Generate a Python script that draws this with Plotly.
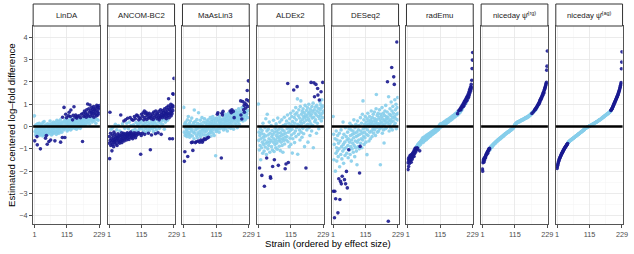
import plotly.graph_objects as go

W, H = 634, 254
FONT = "Liberation Sans, Arial, sans-serif"
DARK = "#1a1a90"
LIGHT = "#87ceeb"

methods = ["LinDA", "ANCOM-BC2", "MaAsLin3", "ALDEx2", "DESeq2", "radEmu",
           "niceday ψ̂<sup>(rg)</sup>", "niceday ψ̂<sup>(ag)</sup>"]
strain = list(range(1, 230))
x_ticks = [1, 115, 229]
x_minor = [58, 172]
y_ticks = [-4, -3, -2, -1, 0, 1, 2, 3, 4]
y_minor = [-3.5, -2.5, -1.5, -0.5, 0.5, 1.5, 2.5, 3.5]

linda = [
    0.48, -0.64, -0.22, 0.04, -0.38, -0.15, 0.08, -0.30, -0.10, -0.45,
    -0.82, 0.12, -0.25, -0.05, -0.33, 0.02, -0.18, 0.15, -0.40, -0.08,
    -0.28, -1.00, -0.12, 0.06, -0.35, -0.20, 0.10, -0.02, -0.30, -0.42,
    0.18, -0.15, -0.38, -0.05, 0.22, -0.25, -0.10, 0.05, -0.33, -0.52,
    -0.18, 0.08, -0.40, -0.02, -0.28, -0.79, 0.12, -0.15, -0.35, 0.02,
    -0.08, -0.67, -0.22, 0.10, -0.30, 0.25, -0.12, -0.60, 0.04, -0.20,
    -0.38, 0.14, -0.05, -0.25, 0.08, -0.32, -0.10, 0.20, -0.18, 0.00,
    -0.28, 0.12, -0.64, -0.08, 0.18, -0.22, 0.05, -0.35, -0.02, 0.28,
    -0.15, 0.10, -0.26, 0.02, 0.22, -0.12, -0.30, 0.15, -0.05, 0.08,
    -0.20, 0.30, -0.70, 0.05, -0.10, 0.18, -0.25, 0.12, -0.49, 0.42,
    -0.08, 0.20, 0.02, -0.15, 0.86, 0.25, -0.05, -0.49, 0.12, 0.32,
    0.55, -0.10, 0.18, 0.40, 0.05, -0.20, 0.28, 0.08, -0.12, 0.22,
    0.48, 0.15, 0.64, -0.05, 0.30, 0.10, 0.45, -0.15, 0.74, 0.20,
    0.02, 0.35, -0.10, 0.25, 0.30, 0.08, 0.50, -0.02, 0.18, 0.89,
    0.12, 0.28, -0.08, 0.42, 0.20, 0.52, 0.05, 0.32, -0.12, 0.38,
    0.15, 0.45, 0.22, -0.05, 0.30, 0.10, 0.48, 0.25, 0.02, 0.35,
    0.18, -0.08, 0.40, 0.28, 0.08, 0.55, 0.22, 0.32, 0.12, -0.67,
    0.25, 0.60, 0.15, 0.45, 0.30, 0.05, 0.70, 0.20, 0.50, 0.35,
    0.62, 0.10, 0.42, 0.28, 0.75, 0.18, 0.55, 1.01, 0.32, 0.48,
    0.22, 0.80, 0.38, 0.65, 0.12, 0.97, 0.45, 0.28, 0.72, 0.58,
    0.35, 0.85, 0.62, 0.20, 0.50, 0.78, 0.30, 0.68, 0.90, 0.42,
    0.25, 0.60, 0.75, 0.38, 0.55, 0.82, 0.15, 0.70, 0.48, 0.95,
    0.32, 0.89, 0.65, 0.52, 0.28, 0.78, 0.60, 0.85, 0.94]
linda_sig = [2, 10, 11, 22, 40, 43, 46, 52, 58, 73, 93, 99, 108, 170,
             100, 105, 111, 114, 121, 123, 127, 129, 135, 137, 140, 144, 146, 150,
             152, 157, 163, 166, 172, 174, 177, 179, 181, 183, 185, 187, 188, 190,
             192, 194, 196, 197, 199, 200, 202, 203, 205, 206, 208, 209, 210, 212,
             213, 215, 216, 218, 219, 220, 222, 223, 224, 226, 227, 228, 229]

ancom = [
    -0.75, -0.45, -1.44, 0.64, -0.62, -0.30, -0.85, -0.12, -0.55, -0.70,
    -1.09, -0.38, -0.80, -0.05, -0.62, -0.48, -0.90, -0.25, -0.58, -0.72,
    -0.35, -0.66, 0.10, -0.52, -0.78, -0.42, -0.60, -0.15, -0.85, -0.48,
    -0.55, -0.32, -0.70, 0.05, -0.45, -0.62, -0.38, -0.75, -0.20, -0.50,
    -0.66, 0.52, -0.40, -0.58, -0.28, -0.72, -0.45, 0.12, -0.60, -0.35,
    -0.52, -0.30, 0.25, -0.65, -0.42, -0.08, -0.55, -0.38, 0.30, -0.48,
    -0.32, -0.60, 0.15, -0.45, -0.28, 0.37, -0.52, -0.40, -0.10, -0.35,
    -0.58, 0.20, -0.30, -0.46, 0.40, -0.38, -0.25, 0.05, -0.50, -0.32,
    0.32, -0.42, -0.18, -0.55, 0.28, -0.35, 0.08, -0.45, -0.28, 0.45,
    -0.38, -0.12, 0.35, -0.50, -0.30, 0.18, -0.40, 0.52, -0.22, 0.02,
    0.48, -0.35, 0.10, -0.28, 0.30, -0.15, 0.42, -0.05, 0.20, -0.32,
    0.35, -1.24, 0.15, -0.40, 0.55, -0.10, 0.25, -0.30, 0.45, 0.05,
    0.62, -0.20, 0.30, 0.12, 0.70, -0.35, 0.40, -0.08, 0.58, 0.18,
    0.64, -0.25, 0.32, 0.05, 0.48, -0.12, 0.55, 0.22, -0.30, 0.38,
    0.10, 0.60, -0.18, 0.42, -0.05, -1.04, 0.50, 0.15, 0.35, -0.38,
    0.25, 0.45, -0.10, 0.58, 0.08, 0.32, -0.22, 0.65, 0.18, 0.40,
    -0.05, 0.52, 0.28, -0.32, 0.70, 0.12, 0.45, -0.15, 0.60, 0.35,
    0.05, 0.55, -0.28, 0.42, 0.22, 0.68, 0.30, -0.08, 0.50, 0.38,
    0.15, 0.75, 0.45, -0.35, 0.62, 0.25, 0.55, 0.40, 0.10, 0.72,
    0.48, 0.30, 0.65, 0.52, -0.12, 0.80, 0.42, 0.58, 0.20, 0.68,
    0.55, 0.35, 0.85, 0.45, 0.62, 0.28, 0.75, 0.50, 0.92, 1.25,
    0.60, 0.40, 0.78, -0.55, 0.55, 0.88, 0.70, 1.00, 0.48, 0.65,
    0.82, 0.58, 0.95, -0.55, 1.47, 0.72, 1.45, 0.90, 2.16]
ancom_sig = [1, 2, 3, 4, 5, 6, 7, 9, 10, 11, 12, 13, 15, 16, 17, 18, 19, 20,
             21, 22, 24, 25, 26, 27, 29, 30, 31, 32, 33, 35, 36, 37, 38, 40,
             41, 42, 43, 44, 45, 46, 47, 49, 50, 51, 52, 53, 54, 55, 57, 58, 59, 60,
             61, 62, 64, 65, 66, 67, 68, 70, 71, 73, 74, 75, 76, 77, 79, 80,
             81, 82, 84, 85, 86, 88, 89, 90, 91, 93, 94, 95, 97, 98,
             101, 102, 104, 105, 107, 110, 111, 112, 114, 115, 118, 119,
             121, 123, 125, 126, 127, 129, 131, 133, 135, 137, 139, 140,
             142, 144, 146, 147, 149, 150, 152, 154, 156, 158, 160,
             162, 164, 165, 167, 169, 170, 172, 173, 174, 176, 177, 179, 180,
             182, 183, 184, 185, 187, 188, 190, 191, 193, 194, 196, 197, 198, 200,
             201, 202, 203, 204, 205, 207, 208, 209, 210,
             211, 212, 213, 214, 215, 216, 217, 218, 219, 220,
             221, 222, 223, 224, 225, 226, 227, 228, 229]

maaslin = [
    0.86, -0.25, -1.56, 0.12, -1.13, -0.40, -0.05, 0.20, -0.32, -0.15,
    0.08, -0.45, -0.22, 0.30, -1.34, -0.10, 0.45, -0.35, 0.02, -0.28,
    0.15, -0.48, -0.08, 0.25, -0.38, 0.05, -0.20, -0.72, 0.38, -0.12,
    -0.42, -0.70, -1.07, 0.10, -0.25, 0.18, -0.55, 0.74, -0.30, -0.02,
    0.22, -0.72, -0.15, 0.05, -0.68, -0.40, 0.32, -0.10, -0.50, 0.15,
    -0.28, -0.65, 0.62, -0.05, -0.35, 0.08, -0.70, -0.20, 0.28, -0.45,
    -0.60, 0.12, -0.30, -0.08, 0.40, -0.70, -0.18, 0.05, -0.62, -0.38,
    0.20, -0.12, -0.55, 0.35, -0.25, -0.05, -0.58, 0.15, -0.40, 0.02,
    -0.20, 0.25, -0.52, -0.10, 0.10, -0.35, 0.30, -0.48, -0.02, 0.18,
    -0.30, 0.05, -0.15, 0.40, -0.25, 0.12, -0.42, 0.22, -0.08, 0.32,
    -0.18, 0.08, 0.45, -0.30, 0.15, -0.05, 0.28, -0.40, 0.02, 0.35,
    -0.12, 0.20, -1.31, 0.10, -0.22, 0.38, 0.05, -0.15, 0.55, 0.25,
    0.62, -0.08, 0.30, 0.12, -0.25, 0.45, 0.02, 0.18, -0.10, 0.35,
    0.08, 0.25, -1.41, 0.15, 0.60, -0.05, 0.52, 0.30, 0.68, 0.10,
    -0.15, 0.40, 0.20, -0.02, 0.32, 0.12, 0.55, -0.10, 0.25, 0.45,
    0.05, 0.35, 0.18, -0.20, 0.48, 0.28, 0.08, 0.60, -0.05, 0.38,
    0.22, 0.50, 0.12, 0.70, 0.30, -0.08, 0.42, 0.62, 0.18, 0.75,
    0.35, 0.05, 0.55, 0.25, 0.68, -0.12, 0.45, 0.40, 0.30, 0.62,
    0.15, 0.52, 0.38, 0.72, 0.08, 0.45, 0.25, 0.58, -0.05, 0.35,
    0.65, 0.20, 0.48, 0.80, 0.32, 0.10, 0.55, 0.42, 0.70, 0.28,
    1.15, 0.52, 0.38, 0.62, 0.34, 0.85, 0.45, 1.12, 0.25, 0.60,
    0.75, 0.40, 0.94, 0.64, 0.55, 1.05, 0.30, 0.82, 0.68, 0.48,
    0.98, 1.20, 0.58, 1.62, 0.40, 0.90, 0.72, 2.05, 1.15]
maaslin_sig = [3, 5, 15, 28, 32, 33, 42, 45, 52, 57, 61, 66, 69, 73, 77, 83, 88,
               119, 121, 133, 135, 137, 139, 164, 168, 170, 175, 178,
               201, 202, 205, 208, 211, 213, 214, 216, 218, 221, 222, 224, 226, 228, 229]

aldex = [
    1.01, -0.62, -0.25, -1.05, -1.86, -0.40, -0.85, -0.10, -1.49, -0.55,
    -0.30, -0.95, -2.19, -0.18, -0.70, -1.20, 0.15, -0.48, -0.80, -0.35,
    -1.10, -2.68, -0.60, -0.05, -0.92, -0.42, 0.35, -0.75, -1.25, -1.41,
    -0.20, 0.55, -0.68, -1.00, -0.38, -0.12, -0.85, -0.55, 0.20, -0.72,
    -1.15, -0.30, -2.25, -2.32, -0.62, 0.05, -0.90, -0.45, -0.18, -1.05,
    -1.79, -0.35, -0.70, 0.28, -0.55, -1.12, -1.49, -0.25, -0.80, -0.08,
    -0.62, -0.95, 0.12, -0.40, -0.75, -0.20, -1.02, -0.50, 0.38, -0.30,
    -1.74, -0.65, -0.12, -0.88, -0.45, 0.20, -0.58, -1.08, -0.28, -0.02,
    -0.70, -0.40, 0.30, -0.85, -0.15, -0.55, -1.15, 0.05, -0.35, -0.62,
    -0.20, 0.42, -0.78, -0.48, -1.89, 0.10, -0.30, -1.68, -0.60, 0.25,
    -0.45, -0.10, 0.52, 1.93, -0.68, -1.61, -0.25, 0.15, -0.90, -0.05,
    0.35, -0.52, -0.18, 0.60, -0.80, 0.08, -0.38, 0.45, -0.12, -1.19,
    0.22, -0.55, 0.70, 0.02, 1.64, -0.30, 0.40, -0.72, 0.15, 0.55,
    -0.20, 0.85, -0.45, 0.30, -0.05, 0.62, 1.79, 1.24, -1.24, 0.10,
    0.48, -0.35, 0.75, 0.05, -0.15, 0.38, -0.60, 0.90, 0.22, 1.15,
    -0.25, 0.55, 0.12, -0.48, 0.68, 0.32, -0.08, 0.80, 0.45, -0.32,
    0.18, 0.62, -0.90, 0.40, 0.95, 0.02, 0.52, -1.86, 0.28, 0.72,
    -0.15, 0.45, 0.85, 0.10, -0.70, 0.58, 0.35, 1.00, -0.05, 0.65,
    0.25, -0.40, 0.78, 0.48, 0.12, 1.98, 0.55, -0.20, 0.90, 0.38,
    0.68, 0.05, 1.05, -0.95, 0.42, 1.96, 0.75, 1.34, 0.22, 0.60,
    0.88, 0.30, 1.89, 0.52, -0.30, 0.95, 0.70, 0.15, 1.71, 1.41,
    0.45, 0.82, -0.10, 0.62, 1.19, 0.35, 1.10, 0.75, 0.50, 0.98,
    1.56, 0.25, 0.85, 1.20, 0.60, 0.40, 1.98, 0.92, 0.70]
aldex_sig = [5, 13, 22, 30, 43, 44, 51, 57, 71, 95, 98, 104, 106, 125, 137, 168,
             186, 196, 198, 203, 209, 210, 215, 221, 227]

deseq = [
    0.45, -2.90, -0.35, -1.49, -0.80, -4.09, -2.90, -0.55, -2.00, -3.24,
    -1.20, -0.20, -0.95, -1.55, -0.60, -1.10, -0.40, -3.87, -1.35, -0.75,
    -2.34, -1.00, -0.30, -1.80, -3.27, -0.65, -2.46, -1.25, -0.15, -2.57,
    -0.90, -1.45, -2.23, -0.50, -1.10, 0.20, -0.80, -1.65, -0.35, -1.00,
    -2.38, -0.70, -1.30, -0.05, -2.57, -0.95, -0.45, -2.01, -1.20, -0.60,
    -2.75, -0.25, -0.85, -1.40, -0.55, -1.04, -0.10, -1.05, -0.70, 0.15,
    -1.25, -0.40, -0.90, -0.15, -1.55, -0.60, 0.05, -1.00, -0.35, -0.75,
    -0.20, -1.15, -0.50, 0.30, -0.85, -0.30, -1.35, -0.05, -0.65, -0.95,
    0.10, -0.45, -1.10, -0.25, -1.71, -0.70, 0.25, -0.40, -0.90, -0.15,
    -0.60, 0.05, -1.00, -2.08, -0.35, -0.89, 0.40, -0.75, -0.20, -0.55,
    0.15, -0.95, -0.30, 0.55, -0.60, 1.15, -0.10, -0.45, 0.30, -0.80,
    -0.25, 0.10, -0.50, 0.45, -0.05, -0.70, 0.20, -0.35, 0.05, -1.26,
    0.35, -0.15, 0.60, -0.40, 0.10, 0.25, -0.65, 0.00, 0.45, -0.25,
    0.15, -0.55, 0.30, 0.05, 0.70, -0.20, 0.20, -0.45, 0.40, 0.10,
    -0.10, 0.55, -0.30, 0.25, 0.00, 0.65, -0.15, 0.35, 0.10, -0.40,
    0.20, 0.80, 1.44, -0.05, 0.30, 0.50, -0.25, 0.15, 0.60, 0.05,
    -0.20, 0.40, 0.10, 0.75, -0.10, 0.30, -1.71, 0.55, 0.20, -0.05,
    0.45, 0.15, 0.85, -0.30, 0.35, 0.05, 0.60, -0.15, 0.25, -0.74,
    0.50, 0.10, 0.70, 0.30, -0.10, 0.95, 0.20, 0.45, -0.05, 0.35,
    0.65, 2.01, 0.15, 0.40, -4.25, 1.34, 0.25, -0.20, 0.55, 0.10,
    0.80, 0.30, -0.05, 0.50, 1.10, 0.20, 2.65, 0.70, -0.15, 0.40,
    0.90, 0.25, 0.60, 2.23, 0.05, 1.89, 0.45, 1.20, 0.15, 0.75,
    0.35, 1.00, -0.10, 0.55, 3.79, 0.85, 0.30, 1.30, 0.60]
deseq_sig = [2, 6, 7, 10, 18, 21, 25, 27, 30, 33, 41, 45, 48, 51, 56, 94, 96,
             192, 195, 207, 214, 216, 225]

rademu = [
    -1.62, -1.93, -1.45, -1.79, -1.52, -1.38, -1.66, -1.47, -1.30, -1.55,
    -1.42, -1.28, -1.60, -1.35, -1.25, -1.48, -1.41, -1.20, -1.33, -1.18,
    -1.27, -1.12, -1.34, -1.05, -1.22, -1.12, -0.98, -1.15, -0.97, -1.02,
    -0.92, -1.06, -0.88, -0.95, -0.84, -0.99, -0.80, -0.82, -0.90, -0.76,
    -0.85, -0.72, -1.09, -0.78, -0.70, -0.81, -0.66, -0.74, -0.62, -0.69,
    -0.60, -0.68, -0.52, -0.63, -0.71, -0.55, -0.48, -0.66, -0.58, -0.50,
    -0.62, -0.45, -0.56, -0.49, -0.41, -0.59, -0.52, -0.38, -0.47, -0.54,
    -0.43, -0.36, -0.50, -0.40, -0.33, -0.46, -0.39, -0.30, -0.44, -0.35,
    -0.28, -0.41, -0.32, -0.25, -0.37, -0.30, -0.22, -0.34, -0.27, -0.19,
    -0.31, -0.24, -0.17, -0.28, -0.21, -0.14, -0.26, -0.18, -0.11, -0.23,
    -0.15, -0.08, -0.19, -0.12, -0.05, -0.16, -0.09, -0.02, -0.13, -0.06,
    0.02, -0.06, 0.08, 0.01, -0.03, 0.12, 0.05, -0.01, 0.10, 0.04,
    0.14, 0.07, 0.02, 0.16, 0.11, 0.05, 0.19, 0.13, 0.09, 0.20,
    0.15, 0.24, 0.12, 0.21, 0.18, 0.27, 0.14, 0.23, 0.30, 0.19,
    0.26, 0.22, 0.33, 0.20, 0.29, 0.35, 0.25, 0.31, 0.38, 0.27,
    0.34, 0.40, 0.30, 0.43, 0.36, 0.32, 0.45, 0.39, 0.48, 0.37,
    0.44, 0.50, 0.41, 0.47, 0.53, 0.43, 0.56, 0.49, 0.46, 0.58,
    0.52, 0.61, 0.55, 0.50, 0.64, 0.58, 0.68, 0.54, 0.62, 0.71,
    0.66, 0.60, 0.74, 0.69, 0.78, 0.65, 0.82, 0.75, 0.88, 0.72,
    0.85, 0.93, 0.80, 0.97, 0.89, 1.02, 0.91, 1.06, 0.95, 1.12,
    1.00, 1.15, 1.08, 1.20, 1.04, 1.25, 1.14, 1.30, 1.18, 1.35,
    1.22, 1.40, 1.28, 1.47, 1.33, 1.55, 1.42, 1.64, 1.50, 1.70,
    1.58, 1.78, 1.66, 1.89, 1.75, 2.08, 2.60, 2.98, 3.32]
rademu_sig = [*range(1, 31), 32, 34, 36, 43, 176, 180, 183, 185, 187, 188, 189,
              191, 192, 194, 195, 196, 197, 198, *range(200, 205), *range(206, 211),
              *range(212, 230)]

nice_rg = [
    -1.90, -2.00, -1.62, -1.55, -1.48, -1.60, -1.42, -1.52, -1.45, -1.38,
    -1.35, -1.40, -1.28, -1.30, -1.22, -1.25, -1.18, -1.20, -1.12, -1.19,
    -1.10, -1.05, -1.08, -1.00, -1.02, -0.97, -0.99, -1.04, -0.93, -0.95,
    -0.90, -0.92, -0.87, -0.94, -0.85, -0.88, -0.82, -0.86, -0.80, -0.78,
    -0.80, -0.76, -0.78, -0.73, -0.75, -0.72, -0.70, -0.74, -0.68, -0.66,
    -0.67, -0.64, -0.66, -0.62, -0.60, -0.63, -0.58, -0.60, -0.56, -0.57,
    -0.55, -0.53, -0.56, -0.51, -0.50, -0.52, -0.48, -0.47, -0.49, -0.45,
    -0.44, -0.46, -0.42, -0.40, -0.43, -0.38, -0.40, -0.36, -0.37, -0.34,
    -0.35, -0.32, -0.33, -0.30, -0.31, -0.28, -0.29, -0.27, -0.25, -0.27,
    -0.24, -0.25, -0.22, -0.23, -0.20, -0.21, -0.19, -0.17, -0.18, -0.15,
    -0.16, -0.13, -0.14, -0.11, -0.12, -0.09, -0.10, -0.07, -0.08, -0.05,
    -0.03, 0.00, 0.03, 0.06, 0.08, 0.10, 0.12, 0.11, 0.14, 0.15,
    0.17, 0.16, 0.19, 0.18, 0.20, 0.21, 0.19, 0.22, 0.23, 0.21,
    0.24, 0.25, 0.23, 0.26, 0.27, 0.25, 0.28, 0.29, 0.27, 0.30,
    0.31, 0.29, 0.32, 0.33, 0.31, 0.34, 0.35, 0.33, 0.36, 0.37,
    0.38, 0.36, 0.39, 0.40, 0.38, 0.41, 0.42, 0.40, 0.43, 0.44,
    0.45, 0.43, 0.47, 0.46, 0.48, 0.50, 0.49, 0.52, 0.51, 0.54,
    0.56, 0.55, 0.58, 0.60, 0.59, 0.62, 0.61, 0.64, 0.66, 0.65,
    0.68, 0.70, 0.69, 0.73, 0.75, 0.72, 0.78, 0.80, 0.77, 0.84,
    0.86, 0.88, 0.85, 0.92, 0.95, 0.93, 0.99, 1.02, 1.00, 1.06,
    1.10, 1.08, 1.15, 1.18, 1.22, 1.20, 1.26, 1.30, 1.28, 1.34,
    1.38, 1.42, 1.40, 1.48, 1.52, 1.55, 1.50, 1.62, 1.66, 1.70,
    1.74, 1.78, 1.83, 1.88, 1.93, 1.98, 2.53, 2.71, 3.39]
nice_rg_sig = [*range(1, 27), 175, 180, 184, 185, 187, 188, 190, 191, 192, 194, 195,
               *range(197, 230)]

nice_ag = [
    -1.88, -1.80, -1.74, -1.68, -1.63, -1.58, -1.54, -1.50, -1.46, -1.43,
    -1.40, -1.37, -1.34, -1.31, -1.28, -1.25, -1.22, -1.20, -1.17, -1.15,
    -1.12, -1.10, -1.07, -1.05, -1.03, -1.00, -0.98, -0.96, -0.94, -0.92,
    -0.90, -0.88, -0.86, -0.84, -0.82, -0.80, -0.78, -0.76, -0.74, -0.72,
    -0.70, -0.69, -0.67, -0.66, -0.65, -0.64, -0.63, -0.62, -0.61, -0.60,
    -0.59, -0.58, -0.57, -0.56, -0.55, -0.54, -0.53, -0.52, -0.51, -0.50,
    -0.49, -0.48, -0.47, -0.46, -0.45, -0.44, -0.43, -0.42, -0.41, -0.40,
    -0.39, -0.38, -0.37, -0.36, -0.35, -0.34, -0.33, -0.32, -0.31, -0.30,
    -0.29, -0.28, -0.27, -0.26, -0.25, -0.24, -0.23, -0.22, -0.21, -0.20,
    -0.19, -0.18, -0.17, -0.16, -0.15, -0.14, -0.12, -0.11, -0.10, -0.09,
    -0.08, -0.07, -0.06, -0.05, -0.05, -0.04, -0.03, -0.02, -0.02, -0.01,
    0.00, 0.00, 0.01, 0.01, 0.02, 0.03, 0.03, 0.04, 0.05, 0.06,
    0.06, 0.07, 0.08, 0.09, 0.09, 0.10, 0.11, 0.12, 0.12, 0.13,
    0.14, 0.15, 0.15, 0.16, 0.17, 0.18, 0.19, 0.19, 0.20, 0.21,
    0.22, 0.23, 0.23, 0.24, 0.25, 0.26, 0.27, 0.28, 0.29, 0.30,
    0.30, 0.31, 0.32, 0.33, 0.34, 0.35, 0.36, 0.37, 0.38, 0.39,
    0.40, 0.41, 0.42, 0.43, 0.44, 0.45, 0.46, 0.47, 0.48, 0.49,
    0.50, 0.51, 0.52, 0.53, 0.54, 0.55, 0.56, 0.57, 0.58, 0.59,
    0.60, 0.61, 0.62, 0.63, 0.64, 0.65, 0.67, 0.68, 0.70, 0.72,
    0.74, 0.76, 0.78, 0.80, 0.83, 0.86, 0.89, 0.92, 0.95, 0.98,
    1.01, 1.04, 1.07, 1.10, 1.13, 1.16, 1.19, 1.22, 1.25, 1.28,
    1.31, 1.34, 1.37, 1.40, 1.44, 1.48, 1.52, 1.56, 1.60, 1.64,
    1.69, 1.74, 1.79, 1.85, 1.91, 1.97, 2.59, 2.89, 3.35]
nice_ag_sig = [*range(1, 39), *range(190, 230)]

values = [linda, ancom, maaslin, aldex, deseq, rademu, nice_rg, nice_ag]
sigs = [linda_sig, ancom_sig, maaslin_sig, aldex_sig, deseq_sig, rademu_sig,
        nice_rg_sig, nice_ag_sig]
for v in values:
    assert len(v) == len(strain), len(v)

fig = go.Figure()
layout = {}
shapes = []
annotations = []

Y0, Y1 = 1 - 224 / H, 1 - 26 / H
for k, (name, vals, sig) in enumerate(zip(methods, values, sigs)):
    sfx = "" if k == 0 else str(k + 1)
    sset = set(sig)
    xl = [s for s in strain if s not in sset]
    yl = [vals[s - 1] for s in xl]
    xd = [s for s in strain if s in sset]
    yd = [vals[s - 1] for s in xd]
    fig.add_trace(go.Scatter(x=xl, y=yl, mode="markers", xaxis="x" + sfx, yaxis="y" + sfx,
                             marker=dict(color=LIGHT, size=3.6, opacity=0.9, line=dict(width=0)),
                             showlegend=False, hoverinfo="skip"))
    fig.add_trace(go.Scatter(x=xd, y=yd, mode="markers", xaxis="x" + sfx, yaxis="y" + sfx,
                             marker=dict(color=DARK, size=3.6, opacity=0.9, line=dict(width=0)),
                             showlegend=False, hoverinfo="skip"))
    lpx = 32.5 + k * 75.5
    rpx = lpx + 67.5
    left, right = lpx / W, rpx / W
    layout["xaxis" + sfx] = dict(
        domain=[left, right], range=[-3.5, 231], anchor="y" + sfx,
        tickvals=x_ticks, ticktext=[str(t) for t in x_ticks],
        ticks="outside", ticklen=3, tickwidth=1, tickcolor="#4d4d4d",
        tickfont=dict(size=7.3, color="#4d4d4d", family=FONT),
        showline=True, linecolor="#555555", linewidth=1, mirror=True,
        showgrid=True, gridcolor="#e6e6e6", gridwidth=0.8, zeroline=False,
        minor=dict(tickvals=x_minor, showgrid=True, gridcolor="#f3f3f3", gridwidth=0.5, ticks=""),
        fixedrange=True)
    layout["yaxis" + sfx] = dict(
        domain=[Y0, Y1], range=[-4.37, 4.51], anchor="x" + sfx,
        tickvals=y_ticks, showticklabels=(k == 0),
        ticks="outside" if k == 0 else "", ticklen=3, tickwidth=1, tickcolor="#4d4d4d",
        tickfont=dict(size=7.3, color="#4d4d4d", family=FONT),
        showline=True, linecolor="#555555", linewidth=1, mirror=True,
        showgrid=True, gridcolor="#e6e6e6", gridwidth=0.8, zeroline=False,
        minor=dict(tickvals=y_minor, showgrid=True, gridcolor="#f3f3f3", gridwidth=0.5, ticks=""),
        fixedrange=True)
    shapes.append(dict(type="line", xref="x" + sfx + " domain", yref="y" + sfx,
                       x0=0, x1=1, y0=0, y1=0, line=dict(color="black", width=2.6), layer="above"))
    shapes.append(dict(type="rect", xref="paper", yref="paper", x0=left, x1=right,
                       y0=1 - 26 / H, y1=1 - 4 / H, fillcolor="white",
                       line=dict(color="#333333", width=1), layer="above"))
    annotations.append(dict(text=name, xref="paper", yref="paper", x=(left + right) / 2,
                            y=1 - 15.3 / H, xanchor="center", yanchor="middle", showarrow=False,
                            font=dict(size=7.8, color="#1a1a1a", family=FONT)))

annotations.append(dict(text="Strain (ordered by effect size)", xref="paper", yref="paper",
                        x=330.5 / W, y=1 - 243.5 / H, xanchor="center", yanchor="middle",
                        showarrow=False, font=dict(size=9.6, color="black", family=FONT)))
annotations.append(dict(text="Estimated centered log\u2013fold difference", xref="paper", yref="paper",
                        x=10 / W, y=1 - 125 / H, xanchor="center", yanchor="middle",
                        textangle=-90, showarrow=False,
                        font=dict(size=9.6, color="black", family=FONT)))

fig.update_layout(width=W, height=H, margin=dict(l=0, r=0, t=0, b=0),
                  paper_bgcolor="white", plot_bgcolor="white",
                  font=dict(family=FONT), shapes=shapes, annotations=annotations,
                  hovermode=False, **layout)
fig.write_html("out.html", config={"displayModeBar": False, "staticPlot": True},
               post_script="document.body.style.margin='0';document.body.style.overflow='hidden';")
